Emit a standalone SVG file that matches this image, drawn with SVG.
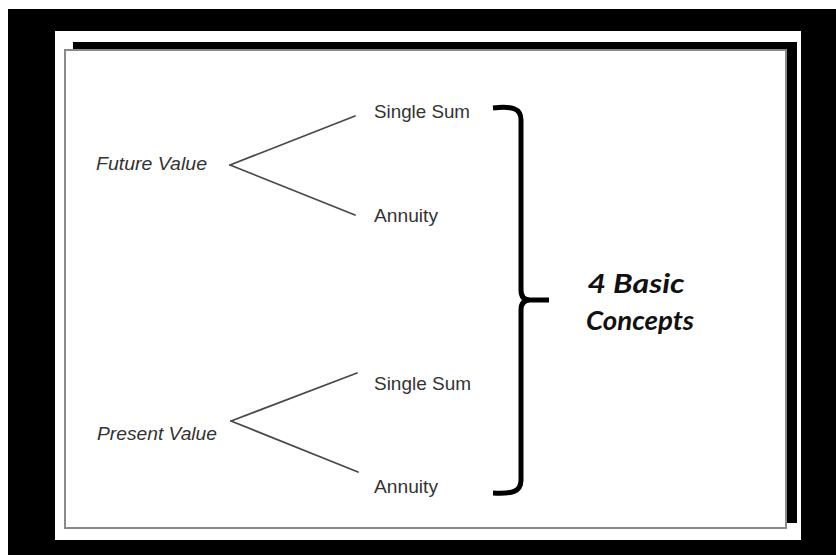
<svg xmlns="http://www.w3.org/2000/svg" width="836" height="555" viewBox="0 0 836 555">
  <style>
    .lbl { font-family: "Liberation Sans", Arial, sans-serif; font-size: 19px; fill: #333333; }
    .it { font-style: italic; }
    .big { font-family: Lato, "Open Sans", sans-serif; font-size: 26px; font-weight: bold; font-style: italic; fill: #111; text-anchor: middle; }
    .conn { stroke: #4a4a4a; stroke-width: 1.8; fill: none; stroke-linecap: round; }
  </style>
  <!-- frame -->
  <rect x="0" y="0" width="836" height="555" fill="#ffffff"/>
  <rect x="8" y="9" width="828" height="546" fill="#000000"/>
  <rect x="55" y="31" width="746" height="509" fill="#ffffff"/>
  <rect x="73" y="42" width="724" height="481" fill="#000000"/>
  <rect x="65" y="50" width="721" height="478" fill="#ffffff" stroke="#8a8a8a" stroke-width="2"/>

  <g id="connectors">
    <line class="conn" x1="230" y1="165" x2="355" y2="116"/>
    <line class="conn" x1="230" y1="165" x2="355" y2="215"/>
    <line class="conn" x1="231" y1="421" x2="357" y2="373"/>
    <line class="conn" x1="231" y1="421" x2="358" y2="472"/>
  </g>

  <g id="future-value"><text class="lbl it" x="96" y="170" textLength="111" lengthAdjust="spacingAndGlyphs">Future Value</text></g>
  <g id="fv-single-sum"><text class="lbl" x="374" y="118" textLength="96" lengthAdjust="spacingAndGlyphs">Single Sum</text></g>
  <g id="fv-annuity"><text class="lbl" x="374" y="222" textLength="64" lengthAdjust="spacingAndGlyphs">Annuity</text></g>

  <g id="present-value"><text class="lbl it" x="97" y="440" textLength="120" lengthAdjust="spacingAndGlyphs">Present Value</text></g>
  <g id="pv-single-sum"><text class="lbl" x="374" y="390" textLength="97" lengthAdjust="spacingAndGlyphs">Single Sum</text></g>
  <g id="pv-annuity"><text class="lbl" x="374" y="493" textLength="64" lengthAdjust="spacingAndGlyphs">Annuity</text></g>

  <g id="brace">
    <path d="M493,108 C512,106 521,108 521,120 L521,290 C521,297 524,300 530,300 L549,300 M530,300 C524,300 521,303 521,310 L521,480 C521,492 512,494 493,493" fill="none" stroke="#000" stroke-width="5"/>
  </g>

  <g id="basic-concepts">
    <text class="big" x="636" y="293" textLength="97" lengthAdjust="spacingAndGlyphs">4 Basic</text>
    <text class="big" x="640" y="330" textLength="108" lengthAdjust="spacingAndGlyphs">Concepts</text>
  </g>
</svg>
